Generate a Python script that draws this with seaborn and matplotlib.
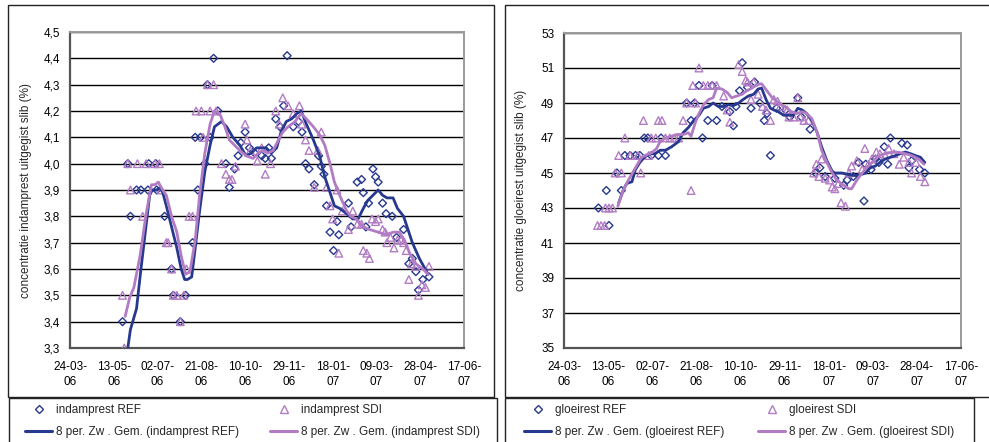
import numpy as np
import pandas as pd
import matplotlib
matplotlib.use("Agg")
import matplotlib.pyplot as plt
import matplotlib.dates as mdates
from matplotlib.lines import Line2D
from matplotlib.patches import Rectangle
import seaborn as sns

# ---------------------------------------------------------------- data
# sampling days are counted from 24-03-2006
START = pd.Timestamp("2006-03-24")

# indamprest (%), REF installation
ind_ref_day = [60, 66, 69, 76, 81, 89, 90, 98, 99, 108, 116, 118, 126, 132, 140, 143, 146, 149,
               154, 157, 160, 164, 169, 178, 182, 188, 192, 195, 200, 205, 211, 219, 223, 227,
               230, 235, 240, 244, 248, 255, 261, 265, 269, 273, 279, 284, 287, 290, 293, 297,
               301, 305, 307, 318, 321, 328, 333, 335, 338, 341, 346, 349, 352, 357, 361, 368,
               373, 381, 387, 391, 395, 398, 403, 410]
ind_ref_val = [3.40, 4.00, 3.80, 3.90, 3.90, 3.90, 4.00, 4.00, 3.90, 3.80, 3.60, 3.50, 3.40, 3.50,
               3.70, 4.10, 3.90, 4.10, 4.00, 4.30, 4.10, 4.40, 4.20, 4.00, 3.91, 3.98, 4.03, 4.08,
               4.12, 4.06, 4.04, 4.03, 4.02, 4.06, 4.02, 4.17, 4.14, 4.22, 4.41, 4.14, 4.16, 4.12,
               4.00, 3.98, 3.92, 4.03, 3.99, 3.96, 3.84, 3.74, 3.67, 3.78, 3.73, 3.85, 3.76, 3.93,
               3.94, 3.89, 3.76, 3.85, 3.98, 3.95, 3.93, 3.85, 3.81, 3.80, 3.72, 3.75, 3.62, 3.64,
               3.59, 3.52, 3.56, 3.57]

# indamprest (%), SDI installation
ind_sdi_day = [60, 62, 66, 69, 77, 83, 87, 97, 102, 104, 110, 112, 116, 118, 122, 126, 130, 133,
               136, 140, 144, 150, 152, 157, 160, 164, 167, 173, 178, 182, 185, 189, 200, 202,
               206, 214, 219, 223, 229, 235, 239, 243, 249, 255, 262, 265, 269, 273, 279, 283,
               287, 293, 297, 300, 305, 307, 311, 318, 323, 328, 333, 335, 339, 342, 345, 349,
               352, 357, 360, 362, 366, 370, 374, 378, 381, 384, 387, 390, 395, 398, 402, 406, 410]
ind_sdi_val = [3.50, 3.30, 4.00, 3.90, 4.00, 3.80, 4.00, 4.00, 4.00, 3.90, 3.70, 3.70, 3.60, 3.50,
               3.50, 3.40, 3.50, 3.60, 3.80, 3.80, 4.20, 4.20, 4.10, 4.30, 4.20, 4.30, 4.20, 4.00,
               3.96, 3.94, 3.94, 3.99, 4.15, 4.09, 4.05, 4.01, 4.06, 3.96, 4.00, 4.20, 4.15, 4.25,
               4.22, 4.19, 4.22, 4.15, 4.09, 4.05, 3.91, 4.05, 4.12, 3.91, 3.84, 3.79, 3.90, 3.66,
               3.82, 3.75, 3.82, 3.77, 3.77, 3.67, 3.66, 3.64, 3.79, 3.78, 3.79, 3.75, 3.74, 3.70,
               3.72, 3.68, 3.71, 3.71, 3.70, 3.67, 3.56, 3.62, 3.61, 3.50, 3.54, 3.53, 3.61]

# 8-period moving averages of indamprest
ind_ref_ma_day = [66, 69, 76, 80, 86, 91, 94, 99, 103, 106, 110, 116, 122, 127, 131, 134, 139,
                  143, 148, 154, 160, 165, 173, 179, 186, 194, 201, 207, 213, 219, 224, 230, 236,
                  241, 247, 253, 259, 264, 270, 278, 285, 291, 297, 302, 308, 316, 323, 329, 335,
                  340, 346, 352, 357, 362, 369, 374, 381, 386, 391, 399, 409]
ind_ref_ma = [3.30, 3.37, 3.45, 3.57, 3.74, 3.88, 3.90, 3.90, 3.91, 3.89, 3.84, 3.76, 3.68, 3.60,
              3.56, 3.56, 3.57, 3.68, 3.82, 3.97, 4.07, 4.14, 4.16, 4.14, 4.10, 4.07, 4.03, 4.04,
              4.06, 4.06, 4.06, 4.04, 4.06, 4.12, 4.16, 4.17, 4.19, 4.20, 4.15, 4.09, 4.03, 3.95,
              3.89, 3.84, 3.83, 3.81, 3.79, 3.79, 3.83, 3.86, 3.88, 3.90, 3.88, 3.87, 3.87, 3.83,
              3.80, 3.75, 3.70, 3.64, 3.58]

ind_sdi_ma_day = [63, 68, 73, 80, 87, 93, 97, 101, 104, 110, 116, 122, 127, 132, 137, 143, 148,
                  154, 160, 165, 171, 177, 182, 188, 194, 201, 209, 215, 220, 226, 232, 238, 243,
                  249, 257, 264, 270, 278, 285, 291, 297, 302, 308, 316, 321, 327, 335, 342, 352,
                  361, 369, 376, 382, 388, 395, 403, 409]
ind_sdi_ma = [3.42, 3.49, 3.53, 3.65, 3.81, 3.92, 3.92, 3.93, 3.91, 3.88, 3.80, 3.74, 3.65, 3.58,
              3.59, 3.71, 3.88, 4.04, 4.15, 4.20, 4.19, 4.14, 4.09, 4.07, 4.05, 4.03, 4.02, 4.04,
              4.05, 4.04, 4.05, 4.09, 4.12, 4.14, 4.16, 4.19, 4.17, 4.14, 4.11, 4.07, 4.00, 3.93,
              3.88, 3.82, 3.80, 3.79, 3.76, 3.75, 3.74, 3.73, 3.74, 3.74, 3.71, 3.66, 3.62, 3.60,
              3.58]

# gloeirest (%), REF installation
gl_ref_day = [39, 48, 51, 60, 65, 69, 75, 81, 86, 91, 95, 99, 107, 110, 115, 139, 144, 148, 153,
              157, 163, 168, 173, 179, 188, 192, 195, 199, 202, 208, 212, 216, 222, 227, 230, 234,
              241, 251, 256, 265, 269, 279, 285, 290, 296, 307, 317, 321, 328, 334, 340, 342, 348,
              353, 357, 363, 367, 370, 383, 389, 391, 394, 403, 409]
gl_ref_val = [43.0, 44.0, 42.0, 45.0, 44.0, 46.0, 46.0, 46.0, 46.0, 47.0, 47.0, 46.0, 46.0, 47.0,
              46.0, 49.0, 48.0, 49.0, 50.0, 47.0, 48.0, 50.0, 48.0, 48.8, 48.5, 47.7, 48.8, 49.7,
              51.3, 49.9, 48.7, 50.2, 49.0, 48.0, 48.4, 46.0, 48.7, 48.6, 48.2, 49.3, 48.2, 47.5,
              45.0, 45.3, 44.8, 44.7, 44.3, 44.6, 44.8, 45.6, 43.4, 45.5, 45.2, 45.8, 45.6, 46.5,
              45.5, 47.0, 46.7, 46.6, 45.3, 45.7, 45.2, 45.0]

# gloeirest (%), SDI installation
gl_sdi_day = [38, 42, 46, 47, 51, 55, 58, 62, 65, 69, 75, 84, 87, 90, 96, 99, 104, 107, 111, 115,
              120, 125, 130, 135, 139, 144, 146, 149, 153, 158, 163, 168, 173, 181, 185, 188, 198,
              202, 206, 208, 212, 215, 220, 225, 229, 234, 238, 242, 245, 253, 255, 260, 265, 268,
              272, 277, 283, 286, 289, 292, 296, 301, 304, 307, 311, 314, 319, 323, 326, 332, 338,
              341, 345, 349, 354, 358, 364, 368, 374, 380, 385, 391, 394, 399, 404, 409]
gl_sdi_val = [42.0, 42.0, 42.0, 43.0, 43.0, 43.0, 45.0, 46.0, 45.0, 47.0, 46.0, 46.0, 45.0, 48.0,
              46.0, 47.0, 47.0, 48.0, 48.0, 47.0, 47.0, 47.0, 47.0, 48.0, 49.0, 44.0, 50.0, 49.0,
              51.0, 50.0, 50.0, 50.0, 50.0, 49.4, 48.6, 47.9, 51.2, 50.8, 50.3, 50.2, 49.2, 50.2,
              49.5, 48.8, 48.6, 48.0, 49.2, 49.1, 48.8, 48.6, 48.2, 48.2, 49.3, 48.2, 48.0, 48.0,
              45.0, 45.5, 44.8, 45.8, 44.7, 44.6, 44.2, 44.1, 44.4, 43.3, 43.1, 45.0, 45.4, 45.7,
              45.2, 46.4, 45.5, 45.8, 46.2, 46.1, 46.0, 46.4, 46.1, 45.5, 45.9, 45.6, 45.0, 45.6,
              44.8, 44.5]

# 8-period moving averages of gloeirest
gl_ref_ma_day = [62, 67, 71, 77, 81, 86, 92, 98, 103, 109, 115, 122, 130, 135, 141, 147, 153, 158,
                 164, 169, 175, 181, 186, 192, 198, 203, 209, 215, 220, 224, 229, 234, 238, 243,
                 249, 255, 260, 265, 270, 275, 281, 287, 292, 298, 304, 307, 315, 323, 330, 336,
                 342, 347, 353, 358, 364, 370, 376, 381, 387, 393, 398, 404, 409]
gl_ref_ma = [43.3, 44.0, 44.4, 44.5, 45.2, 45.6, 45.95, 46.1, 46.1, 46.3, 46.3, 46.5, 46.8, 47.3,
             47.6, 48.0, 48.3, 48.7, 48.8, 49.0, 48.8, 48.8, 48.9, 48.85, 49.0, 49.2, 49.4, 49.5,
             49.8, 49.85, 49.2, 48.7, 48.6, 48.5, 48.3, 48.3, 48.3, 48.7, 48.6, 48.4, 48.0, 47.3,
             46.5, 45.7, 45.1, 45.0, 45.0, 44.9, 44.85, 44.9, 45.0, 45.3, 45.4, 45.6, 45.8, 45.9,
             46.0, 46.1, 46.2, 46.1, 46.0, 45.9, 45.6]

gl_sdi_ma_day = [61, 67, 73, 81, 88, 94, 99, 105, 109, 115, 122, 128, 135, 141, 144, 149, 153,
                 158, 164, 169, 173, 179, 185, 190, 196, 202, 207, 213, 219, 224, 230, 236, 241,
                 247, 253, 258, 264, 270, 275, 281, 287, 292, 298, 304, 309, 317, 323, 326, 332,
                 338, 343, 349, 355, 360, 368, 376, 383, 391, 396, 402, 408]
gl_sdi_ma = [43.1, 44.0, 44.6, 45.3, 45.9, 46.05, 46.15, 46.4, 46.8, 47.0, 47.1, 47.2, 47.2, 47.3,
             47.1, 47.9, 48.4, 48.9, 49.2, 49.3, 49.85, 49.8, 49.6, 49.3, 49.4, 49.5, 49.7, 49.85,
             50.05, 50.1, 49.7, 49.3, 49.1, 48.9, 48.7, 48.5, 48.4, 48.5, 48.4, 48.1, 47.3, 46.3,
             45.6, 45.0, 44.6, 44.3, 44.1, 44.1, 44.6, 45.0, 45.3, 45.6, 45.9, 46.05, 46.15, 46.2,
             46.15, 46.05, 45.95, 45.8, 45.5]

x_tick_days = [0, 50, 100, 150, 200, 250, 300, 350, 400, 450]
ind_yticks = [3.3, 3.4, 3.5, 3.6, 3.7, 3.8, 3.9, 4.0, 4.1, 4.2, 4.3, 4.4, 4.5]
gl_yticks = [35, 37, 39, 41, 43, 45, 47, 49, 51, 53]

BLUE = "#27398f"
PURPLE = "#b27cc4"

# ---------------------------------------------------------------- style
sns.set_style("white")
plt.rcParams["font.family"] = ["Liberation Sans", "DejaVu Sans"]
FS = 8.5

W, H = 989, 442
fig = plt.figure(figsize=(W / 100, H / 100), dpi=100)


def px_rect(x0, y0, x1, y1):
    return [x0 / W, 1 - y1 / H, (x1 - x0) / W, (y1 - y0) / H]


def to_dates(days):
    return START + pd.to_timedelta(np.asarray(days, dtype=float), unit="D")


def panel(rect, ref_d, ref_v, sdi_d, sdi_v, ref_md, ref_m, sdi_md, sdi_m,
          yticks, fmt, ylabel, label_x):
    ax = fig.add_axes(rect)
    sns.scatterplot(x=to_dates(ref_d), y=ref_v, ax=ax, marker="D", s=16,
                    facecolor="none", edgecolor=BLUE, linewidth=1.0, zorder=3)
    sns.scatterplot(x=to_dates(sdi_d), y=sdi_v, ax=ax, marker="^", s=30,
                    facecolor="none", edgecolor=PURPLE, linewidth=1.0, zorder=3)
    sns.lineplot(x=to_dates(ref_md), y=ref_m, ax=ax, color=BLUE, lw=2.0,
                 sort=False, estimator=None, zorder=4)
    sns.lineplot(x=to_dates(sdi_md), y=sdi_m, ax=ax, color=PURPLE, lw=2.0,
                 sort=False, estimator=None, zorder=4)

    ax.set_xlim(to_dates([x_tick_days[0]])[0], to_dates([x_tick_days[-1]])[0])
    ax.set_ylim(yticks[0], yticks[-1])
    ax.set_xticks(to_dates(x_tick_days))
    ax.xaxis.set_major_formatter(mdates.DateFormatter("%d-%m-\n%y"))
    ax.set_yticks(yticks)
    ax.set_yticklabels([fmt(v) for v in yticks])
    for lab in ax.get_xticklabels():
        lab.set_linespacing(1.35)

    ax.tick_params(axis="both", labelsize=FS, colors="black", direction="out",
                   length=4, width=1.0)
    ax.tick_params(axis="x", pad=5)
    ax.tick_params(axis="y", pad=3)
    ax.grid(axis="y", color="black", lw=1.0, zorder=0)
    ax.set_axisbelow(True)
    for side in ("left", "bottom"):
        ax.spines[side].set_color("#555555")
        ax.spines[side].set_linewidth(1.6)
    for side in ("top", "right"):
        ax.spines[side].set_color("#9a9a9a")
        ax.spines[side].set_linewidth(1.4)
    ax.set_xlabel("")
    ax.set_ylabel(ylabel, fontsize=FS)
    ax.yaxis.set_label_coords(label_x, 0.5)
    return ax


panel(px_rect(70, 32, 464, 348), ind_ref_day, ind_ref_val, ind_sdi_day, ind_sdi_val,
      ind_ref_ma_day, ind_ref_ma, ind_sdi_ma_day, ind_sdi_ma, ind_yticks,
      lambda v: f"{v:.1f}".replace(".", ","),
      "concentratie indamprest uitgegist slib (%)", -0.097)

panel(px_rect(564, 33, 961, 348), gl_ref_day, gl_ref_val, gl_sdi_day, gl_sdi_val,
      gl_ref_ma_day, gl_ref_ma, gl_sdi_ma_day, gl_sdi_ma, gl_yticks,
      lambda v: f"{v:d}",
      "concentratie gloeirest uitgegist slib (%)", -0.093)

# chart and legend frames
for x0, y0, x1, y1 in [(8, 5, 494, 397), (9, 398, 497, 460),
                       (505, 5, 1000, 397), (505, 398, 974, 460)]:
    fig.patches.append(Rectangle((x0 / W, 1 - y1 / H), (x1 - x0) / W, (y1 - y0) / H,
                                 transform=fig.transFigure, fill=False,
                                 edgecolor="#222222", lw=1.0))


def legend_column(x_px, marker, color, point_label, line_label):
    handles = [Line2D([], [], ls="none", marker=marker, ms=4.5 if marker == "D" else 6,
                      mfc="none", mec=color, mew=1.0),
               Line2D([], [], color=color, lw=2.2)]
    fig.legend(handles, [point_label, line_label], loc="upper left",
               bbox_to_anchor=(x_px / W, 1 - 404 / H), frameon=False,
               fontsize=FS, handlelength=2.3, handletextpad=0.3,
               borderpad=0, borderaxespad=0, labelspacing=0.85)


legend_column(25, "D", BLUE, "indamprest REF", "8 per. Zw . Gem. (indamprest REF)")
legend_column(270, "^", PURPLE, "indamprest SDI", "8 per. Zw . Gem. (indamprest SDI)")
legend_column(524, "D", BLUE, "gloeirest REF", "8 per. Zw . Gem. (gloeirest REF)")
legend_column(758, "^", PURPLE, "gloeirest SDI", "8 per. Zw . Gem. (gloeirest SDI)")

fig.savefig("out.png", dpi=100)
